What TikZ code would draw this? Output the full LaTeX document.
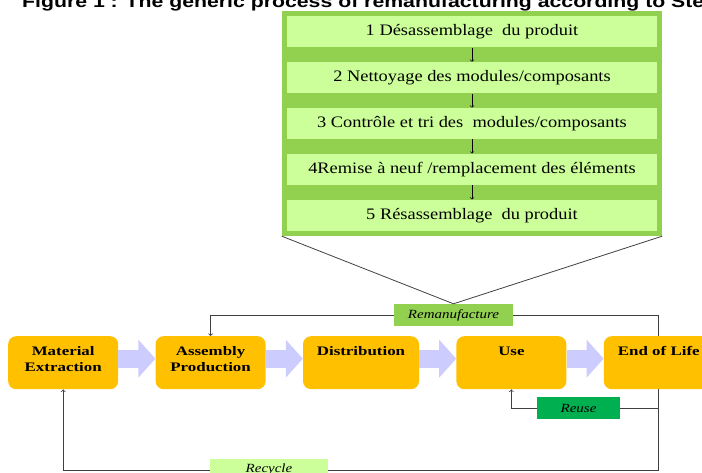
\documentclass[tikz,border=0pt]{standalone}
\usepackage{fontspec}
\setmainfont{Liberation Serif}
\newfontfamily\stepfont{Liberation Serif}[FakeStretch=1.15]
\newfontfamily\procfont{Liberation Serif}[FakeStretch=1.3]
\newfontfamily\labelfont{Liberation Serif}[FakeStretch=1.2]
\newfontfamily\titlefont{Liberation Sans}[FakeStretch=1.25]
\usepackage{tikz}
\usetikzlibrary{arrows}
\usetikzlibrary{arrows.meta}
\usetikzlibrary{positioning}
\definecolor{procorange}{HTML}{FFC000}
\definecolor{flowblue}{HTML}{CCCCFF}
\definecolor{framegreen}{HTML}{92D050}
\definecolor{stepgreen}{HTML}{CCFF99}
\definecolor{reusegreen}{HTML}{00B050}
\definecolor{linkgray}{HTML}{404040}

\begin{document}
\begin{tikzpicture}[x=1pt,y=-1pt,>=to,node distance=37pt,
            title node/.style={inner sep=0,font=\titlefont\bfseries\fontsize{17}{20}\selectfont},
            frame node/.style={fill=framegreen,inner sep=0,minimum width=380pt,minimum height=225pt},
            step node/.style={fill=stepgreen,inner sep=0,minimum width=370pt,minimum height=31.5pt,
                              font=\stepfont\fontsize{16}{18}\selectfont},
            proc node/.style={fill=procorange,rounded corners=8pt,inner sep=0,text width=110pt,align=center,
                              text height=19pt,text depth=34pt,font=\procfont\bfseries\fontsize{13}{16}\selectfont},
            loop node/.style={inner sep=0,minimum height=22pt,font=\labelfont\itshape\fontsize{12.5}{14}\selectfont},
            link/.style={draw=linkgray,line width=0.8pt},
            flow arrow/.style={draw=flowblue,line width=18pt,-{Triangle[length=17pt,width=37pt]}}
            ]

            \useasboundingbox (0,0) rectangle (702,473);
            \clip (0,0) rectangle (702,473);

            \node[title node,anchor=base west](title) at (22,7.5)
                {Figure 1 : The generic process of remanufacturing according to Ste};

            % remanufacturing steps
            \node[frame node](frame) at (472,123.5) {};
            \node[step node](s1)[below=5pt of frame.north]{1 Désassemblage\ \ du produit};
            \node[step node](s2)[below=14pt of s1]{2 Nettoyage des modules/composants};
            \node[step node](s3)[below=14pt of s2]{3 Contrôle et tri des\ \ modules/composants};
            \node[step node](s4)[below=14pt of s3]{4Remise à neuf /remplacement des éléments};
            \node[step node](s5)[below=14pt of s4]{5 Résassemblage\ \ du produit};

            \foreach \a/\b in {s1/s2,s2/s3,s3/s4,s4/s5}
                \draw[->,black,line width=0.6pt] (\a) -- (\b);

            % life cycle
            \node[proc node,anchor=north west](mat) at (8,336){Material\\Extraction};
            \node[proc node](asm)[right=of mat]{Assembly\\Production};
            \node[proc node,text width=116pt](dist)[right=of asm]{Distribution};
            \node[proc node](use)[right=of dist]{Use};
            \node[proc node](eol)[right=of use]{End of Life};

            \foreach \a/\b in {mat/asm,asm/dist,dist/use,use/eol}
                \draw[flow arrow] ([yshift=4pt]\a.east) -- ([yshift=4pt]\b.west);

            % loops
            \node[loop node,fill=framegreen,minimum width=119pt](reman) at (453.5,315){Remanufacture};
            \node[loop node,fill=reusegreen,minimum width=83pt](reuse) at (578.5,408){Reuse};
            \node[loop node,fill=stepgreen,minimum width=118pt](recycle) at (269,470){Recycle};

            \draw[link] (frame.south west) -- (reman.north) -- (frame.south east);
            \draw[link,->] (reman.west) -| (asm.north);
            \draw[link] (reman.east) -| (eol.north);
            \draw[link] (eol.south) |- (recycle.east);
            \draw[link,->] (recycle.west) -| (mat.south);
            \draw[link] (eol.south |- reuse.east) -- (reuse.east);
            \draw[link,->] (reuse.west) -| (use.south);

        \end{tikzpicture}
\end{document}
